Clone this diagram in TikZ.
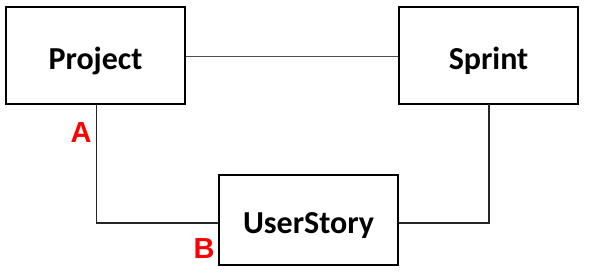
\documentclass[tikz,border=0pt]{standalone}
\usepackage{fontspec}
\setmainfont{Carlito}
\newfontfamily\labelfont{Liberation Sans}
\begin{document}
\begin{tikzpicture}[x=1pt,y=-1pt,
  entity/.style={draw=black,line width=2pt,minimum width=179pt,inner sep=0pt,text height=27pt,text depth=0pt,font=\fontsize{32}{38}\selectfont\bfseries},
  conn/.style={draw=black!85,line width=1.3pt},
  tag/.style={text=red,font=\labelfont\fontsize{29}{34}\selectfont\bfseries,inner sep=0pt}]
\useasboundingbox (0,0) rectangle (590,276);
\node[entity,minimum height=97pt] (project) at (95.5,55.5) {Project};
\node[entity,minimum height=97pt] (sprint) at (488.5,55.5) {Sprint};
\node[entity,minimum height=90pt,text height=26pt] (story) at (308.5,220) {UserStory};
\draw[conn,line width=1pt,draw=black!70] (project.east |- 0,56) -- (sprint.west |- 0,56);
\draw[conn] (96.3,104) coordinate (pa) -- (96.3,223) -- (story.west |- 0,223);
\draw[conn] (489,104) -- (489,223) -- (story.east |- 0,223);
\node[tag] (A) at (81,133) {A};
\node[tag] (B) at (204,249) {B};
\end{tikzpicture}
\end{document}
